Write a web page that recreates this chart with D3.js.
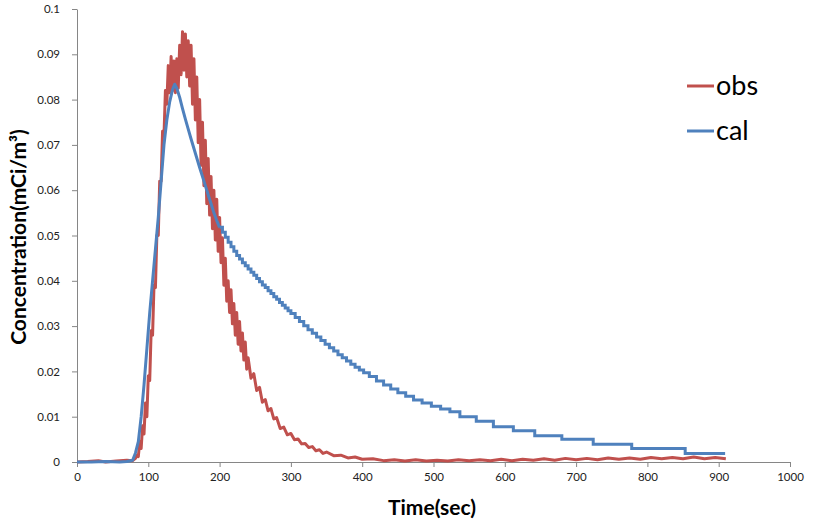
<!DOCTYPE html>
<html>
<head>
<meta charset="utf-8">
<script src="https://cdn.jsdelivr.net/npm/d3@7"></script>
<style>
  html, body { margin: 0; padding: 0; background: #fff; }
  svg { display: block; }
  .tick text { font-family: Lato, "Noto Sans", sans-serif; font-size: 11.5px; fill: #222; }
</style>
</head>
<body>
<svg id="chart" width="817" height="528"></svg>
<script>
// ---- Data ----
const xTicks = [0, 100, 200, 300, 400, 500, 600, 700, 800, 900, 1000];
const yTicks = [0, 0.01, 0.02, 0.03, 0.04, 0.05, 0.06, 0.07, 0.08, 0.09, 0.1];
const yTickLabels = ["0", "0.01", "0.02", "0.03", "0.04", "0.05", "0.06", "0.07", "0.08", "0.09", "0.1"];
const seriesNames = ["obs", "cal"];

// observed (noisy measurement)
const obsTime = [0, 15, 30, 40, 55, 70, 78, 82,
  84, 86, 88, 90, 92, 94, 96, 98, 100, 102, 104, 106, 108, 110, 112, 114, 116, 118, 120, 122, 124, 126, 128,
  130, 132, 134, 136, 138, 140, 142, 144, 146, 148, 150, 152, 154, 156, 158, 160, 162, 164, 166, 168, 170,
  172, 174, 176, 178, 180, 182, 184, 186, 188, 190, 192, 194, 196, 198, 200, 202, 204, 206, 208, 210, 212,
  214, 216, 218, 220, 222, 224, 226, 228, 230, 232, 234, 236, 238, 240,
  244, 248, 252, 256, 260, 264, 268, 272, 276, 280, 285, 290, 295, 300, 305, 310, 315, 320, 325, 330, 335, 340, 345, 350,
  360, 370, 380, 390, 400, 415, 430, 445, 460, 475, 490, 505, 520, 535, 550, 565, 580, 595, 610, 625, 640, 655, 670, 685, 700,
  715, 730, 745, 760, 775, 790, 805, 820, 835, 850, 865, 880, 895, 910];
const obsValue = [0, 0.0001, 0.0003, 0, 0.0002, 0.0004, 0.0003, 0.0008,
  0.0015, 0.0012, 0.0045, 0.003, 0.008, 0.0062, 0.013, 0.010, 0.019, 0.018, 0.029, 0.028, 0.039, 0.0385, 0.050, 0.050, 0.062, 0.062, 0.073, 0.072, 0.082, 0.079, 0.0875,
  0.0815, 0.0895, 0.082, 0.0885, 0.0815, 0.089, 0.0825, 0.092, 0.0855, 0.095, 0.0865, 0.0945, 0.085, 0.093, 0.083, 0.092, 0.079, 0.089, 0.0755, 0.085, 0.0705,
  0.080, 0.0655, 0.075, 0.061, 0.071, 0.057, 0.067, 0.0545, 0.063, 0.0515, 0.060, 0.049, 0.058, 0.0465, 0.054, 0.044, 0.0495, 0.039, 0.045, 0.0355, 0.040,
  0.033, 0.038, 0.0305, 0.035, 0.028, 0.033, 0.026, 0.031, 0.0245, 0.0285, 0.0225, 0.0265, 0.0205, 0.023,
  0.0185, 0.0195, 0.0158, 0.0165, 0.0132, 0.0138, 0.0113, 0.0118, 0.0095, 0.0098, 0.0074, 0.0077, 0.0060, 0.0063, 0.0049, 0.0051, 0.0040, 0.0041, 0.0032, 0.0034, 0.0025, 0.0027, 0.0019, 0.0022,
  0.0014, 0.0015, 0.0009, 0.0011, 0.0006, 0.0007, 0.0003, 0.0005, 0.0002, 0.0005, 0.0002, 0.0004, 0.0002, 0.0005, 0.0003, 0.0005, 0.0003, 0.0006, 0.0003, 0.0006, 0.0004, 0.0007, 0.0004, 0.0008, 0.0005,
  0.0008, 0.0005, 0.0009, 0.0006, 0.0009, 0.0006, 0.0010, 0.0007, 0.0010, 0.0007, 0.0011, 0.0007, 0.0010, 0.0007];

// calculated: smooth rise and early decline
const calSmoothTime = [0, 20, 40, 60, 70, 78, 82, 86, 90, 94, 98, 102, 106, 110, 114, 118, 122, 126, 130, 134, 137,
  140, 144, 148, 152, 156, 160, 164, 168, 172, 176, 180, 184, 188, 192, 196, 200];
const calSmoothValue = [0, 0, 0.0001, 0, 0.0001, 0.0004, 0.002, 0.0045, 0.010, 0.017, 0.025, 0.033, 0.040, 0.047, 0.054, 0.062, 0.070, 0.0755, 0.0795, 0.0822, 0.0834,
  0.0825, 0.0805, 0.078, 0.0757, 0.0735, 0.0713, 0.0692, 0.0671, 0.0650, 0.0630, 0.0610, 0.0590, 0.0570, 0.0550, 0.0533, 0.0518];
// calculated: stepped tail
const calStepTime = [200, 204, 208, 212, 216, 220, 224, 228, 232, 236, 240, 244, 248, 252, 256, 260, 264, 268, 272, 276,
  280, 284, 288, 292, 296, 300, 306, 312, 318, 324, 330, 336, 342, 348, 354, 360, 366, 372, 378, 384, 390, 396, 402,
  410, 420, 430, 440, 450, 461, 472, 484, 497, 510, 523, 537, 560, 584, 612, 642, 680, 724, 778, 853, 909];
const calStepValue = [0.0518, 0.0507, 0.0496, 0.0485, 0.0475, 0.0465, 0.0456, 0.0448, 0.0440, 0.0433, 0.0426, 0.0419, 0.0412, 0.0405, 0.0398, 0.0391, 0.0385, 0.0378, 0.0372, 0.0365,
  0.0359, 0.0352, 0.0346, 0.0340, 0.0334, 0.0328, 0.0319, 0.0310, 0.0301, 0.0292, 0.0284, 0.0276, 0.0268, 0.0260, 0.0252, 0.0245, 0.0237, 0.0230, 0.0223, 0.0216, 0.0209, 0.0203, 0.0197,
  0.0189, 0.0179, 0.0170, 0.0161, 0.0153, 0.0145, 0.0137, 0.0130, 0.0123, 0.0117, 0.0111, 0.0100, 0.0090, 0.0078, 0.0069, 0.0058, 0.0050, 0.0039, 0.0030, 0.0019, 0.0019];

// ---- Drawing ----
const colors = { obs: "#C0504D", cal: "#4F81BD" };
const svg = d3.select("#chart");
const x = d3.scaleLinear().domain([0, 1000]).range([77, 790]);
const y = d3.scaleLinear().domain([0, 0.1]).range([462, 9]);

const xAxis = d3.axisBottom(x).tickValues(xTicks).tickSize(5).tickSizeOuter(0).tickPadding(6).tickFormat(d3.format("d"));
const yAxis = d3.axisLeft(y).tickValues(yTicks).tickSize(5).tickSizeOuter(0).tickPadding(12)
  .tickFormat((d, i) => yTickLabels[i]);

const gx = svg.append("g").attr("transform", `translate(0,${y(0)})`).call(xAxis);
const gy = svg.append("g").attr("transform", `translate(${x(0)},0)`).call(yAxis);
[gx, gy].forEach(g => {
  g.select(".domain").attr("stroke", "#868686").attr("stroke-width", 1);
  g.selectAll(".tick line").attr("stroke", "#868686");
});

const toPts = (ts, vs) => ts.map((t, i) => [t, vs[i]]);
const lineLin = d3.line().x(d => x(d[0])).y(d => y(d[1]));
const lineStep = d3.line().x(d => x(d[0])).y(d => y(d[1])).curve(d3.curveStepAfter);

svg.append("path").datum(toPts(obsTime, obsValue))
  .attr("d", lineLin).attr("fill", "none").attr("stroke", colors.obs)
  .attr("stroke-width", 3).attr("stroke-linejoin", "round");

svg.append("path").datum(toPts(calSmoothTime, calSmoothValue))
  .attr("d", lineLin).attr("fill", "none").attr("stroke", colors.cal)
  .attr("stroke-width", 3).attr("stroke-linejoin", "round");
svg.append("path").datum(toPts(calStepTime, calStepValue))
  .attr("d", lineStep).attr("fill", "none").attr("stroke", colors.cal)
  .attr("stroke-width", 3);

// axis titles
svg.append("text").attr("x", 432).attr("y", 515).attr("text-anchor", "middle")
  .style("font-family", "Lato, 'Noto Sans', sans-serif").style("font-weight", "bold").style("font-size", "21px")
  .attr("fill", "#000").text("Time(sec)");
svg.append("text").attr("transform", "translate(26,237) rotate(-90)").attr("text-anchor", "middle")
  .style("font-family", "Lato, 'Noto Sans', sans-serif").style("font-weight", "bold").style("font-size", "21px")
  .attr("fill", "#000").text("Concentration(mCi/m³)");

// legend
const legend = svg.append("g");
seriesNames.forEach((name, i) => {
  const cy = 86 + i * 45;
  legend.append("line").attr("x1", 687).attr("x2", 714).attr("y1", cy).attr("y2", cy)
    .attr("stroke", colors[name]).attr("stroke-width", 3);
  legend.append("text").attr("x", 716).attr("y", cy + 9)
    .style("font-family", "Lato, 'Noto Sans', sans-serif").style("font-size", "27px")
    .attr("fill", "#000").text(name);
});
</script>
</body>
</html>
